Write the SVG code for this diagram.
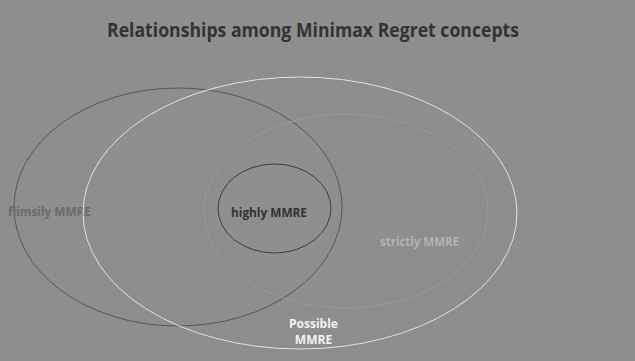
<svg xmlns="http://www.w3.org/2000/svg" width="635" height="361" viewBox="0 0 635 361">
  <style>
    text { font-family: "Open Sans", "Liberation Sans", sans-serif; font-weight: bold; }
    .title { font-size: 19px; fill: #333333; }
    .lbl { font-size: 13px; }
    .small { font-size: 12px; }
    .set { fill: none; stroke-width: 1; }
  </style>
  <rect x="0" y="0" width="635" height="361" fill="#8e8e8e"/>
  <text class="title" x="313" y="37" text-anchor="middle" textLength="412" lengthAdjust="spacingAndGlyphs">Relationships among Minimax Regret concepts</text>

  <g id="flimsily">
    <ellipse class="set" cx="178" cy="207" rx="164" ry="119" stroke="#585858"/>
    <text class="lbl" x="8" y="216" fill="#6a6a6a" textLength="83" lengthAdjust="spacingAndGlyphs">flimsily MMRE</text>
  </g>
  <g id="possible">
    <ellipse class="set" cx="300" cy="213" rx="217" ry="136" stroke="#e2e2e2"/>
    <text class="small" x="313.5" y="328" fill="#f2f2f2" text-anchor="middle">Possible</text>
    <text class="small" x="313.5" y="344" fill="#f2f2f2" text-anchor="middle">MMRE</text>
  </g>
  <g id="strictly">
    <ellipse class="set" cx="346" cy="211" rx="142" ry="97" stroke="#9a9a9a"/>
    <text class="lbl" x="380" y="246" fill="#b4b4b4" textLength="79" lengthAdjust="spacingAndGlyphs">strictly MMRE</text>
  </g>
  <g id="highly">
    <ellipse class="set" cx="274.5" cy="208.5" rx="56.5" ry="44.5" stroke="#3c3c3c"/>
    <text class="lbl" x="231" y="217" fill="#333333" textLength="76" lengthAdjust="spacingAndGlyphs">highly MMRE</text>
  </g>
  <g id="connectors"/>
</svg>
